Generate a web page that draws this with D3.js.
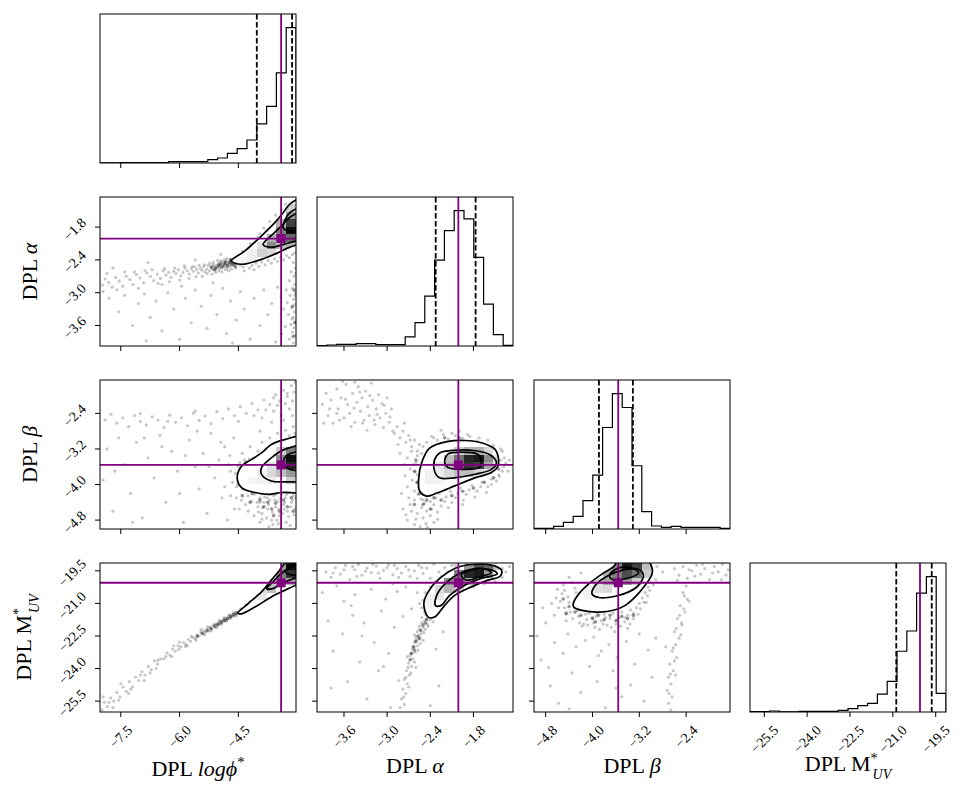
<!DOCTYPE html>
<html>
<head>
<meta charset="utf-8">
<script src="https://cdn.jsdelivr.net/npm/d3@7"></script>
<style>
  body { margin: 0; background: #fff; }
  svg text { font-family: "Liberation Serif", "DejaVu Serif", serif; }
</style>
</head>
<body>
<div id="chart"></div>
<script>
// ---- data ----
const ranges = [[-8.03, -3.03], [-3.975, -1.25], [-5.0, -1.65], [-26.0, -19.14]];
const tickVals = [[-7.5, -6.0, -4.5], [-3.6, -3.0, -2.4, -1.8], [-4.8, -4.0, -3.2, -2.4], [-25.5, -24.0, -22.5, -21.0, -19.5]];
const truths = [-3.41, -2.01, -3.56, -20.05];
const quantiles = [[-4.03, -3.13], [-2.325, -1.77], [-3.89, -3.31], [-20.88, -19.64]];

// 20-bin histograms (counts)
const histLogphi = [0.5, 0.5, 1, 1, 1, 1, 1, 4, 4, 4, 4, 10, 15, 29, 43, 69, 117, 170, 270, 406];
const histAlpha = [1, 3, 5, 5, 7, 7, 4, 4, 4, 27, 70, 149, 257, 345, 405, 380, 265, 125, 34, 2];
const histBeta = [2, 2, 8, 20, 38, 85, 162, 305, 407, 365, 190, 52, 9, 5, 8, 5, 5, 5, 5, 2];
const histMuv = [1, 1, 3, 0.5, 0.5, 2, 2, 2, 2, 5, 10, 19, 26, 54, 92, 183, 244, 358, 408, 56];

// samples outside the lowest contour, [x, y]
const ptsAlphaLogphi = [
  [-4.52,-2.44],[-4.55,-2.40],[-4.58,-2.47],[-4.60,-2.43],[-4.62,-2.50],[-4.65,-2.45],[-4.67,-2.41],[-4.70,-2.48],[-4.72,-2.52],[-4.74,-2.44],
  [-4.77,-2.47],[-4.79,-2.55],[-4.81,-2.42],[-4.84,-2.50],[-4.86,-2.46],[-4.88,-2.53],[-4.91,-2.49],[-4.93,-2.44],[-4.96,-2.56],[-4.98,-2.51],
  [-5.01,-2.47],[-5.04,-2.54],[-5.06,-2.50],[-5.09,-2.58],[-5.12,-2.52],[-5.15,-2.48],[-5.18,-2.56],[-5.21,-2.53],[-5.24,-2.60],[-5.27,-2.50],
  [-5.31,-2.57],[-5.35,-2.62],[-5.39,-2.52],[-5.43,-2.59],[-5.47,-2.55],[-5.52,-2.64],[-5.56,-2.58],[-5.61,-2.53],[-5.65,-2.61],[-5.70,-2.56],
  [-5.75,-2.66],[-5.80,-2.60],[-5.86,-2.55],[-5.91,-2.63],[-5.97,-2.69],[-6.03,-2.58],[-6.09,-2.65],[-6.15,-2.61],[-6.22,-2.72],[-6.28,-2.63],
  [-6.35,-2.68],[-6.42,-2.60],[-6.49,-2.74],[-6.57,-2.66],[-6.66,-2.78],[-6.74,-2.70],[-6.83,-2.64],[-6.92,-2.82],[-7.01,-2.73],[-7.10,-2.67],
  [-7.19,-2.85],[-7.27,-2.76],[-7.36,-2.70],[-7.45,-2.88],[-7.54,-2.79],[-7.63,-2.72],[-7.72,-2.90],[-7.81,-2.81],[-7.90,-2.75],[-7.97,-2.86],
  [-7.60,-2.95],[-7.05,-2.92],[-6.45,-2.85],
  [-4.53,-2.36],[-4.57,-2.55],[-4.63,-2.38],[-4.68,-2.57],[-4.71,-2.39],[-4.75,-2.60],[-4.80,-2.37],[-4.83,-2.58],[-4.87,-2.40],[-4.92,-2.62],
  [-4.95,-2.42],[-5.00,-2.60],[-5.03,-2.41],[-5.08,-2.63],[-5.13,-2.44],[-5.17,-2.66],[-5.23,-2.46],[-5.29,-2.65],[-5.36,-2.49],[-5.42,-2.70],
  [-5.50,-2.50],[-5.58,-2.71],[-5.67,-2.52],[-5.76,-2.74],[-5.88,-2.51],[-6.00,-2.77],[-6.12,-2.55],[-6.26,-2.80],[-6.38,-2.56],[-6.55,-2.83],
  [-6.70,-2.58],[-6.88,-2.60],[-7.15,-2.62],[-7.40,-2.62],[-7.85,-2.65],[-4.62,-2.47],[-4.69,-2.44],[-4.78,-2.49],[-4.89,-2.51],[-5.02,-2.53],
  [-4.45,-2.50],[-4.38,-2.53],[-4.30,-2.47],[-4.22,-2.55],[-4.15,-2.50],[-4.05,-2.46],[-3.98,-2.52],[-3.90,-2.44],[-3.82,-2.49],[-3.74,-2.41],
  [-3.66,-2.46],[-3.58,-2.38],[-3.50,-2.43],[-3.42,-2.35],[-3.35,-2.40],[-3.27,-2.32],[-3.20,-2.36],[-3.12,-2.30],[-3.06,-2.27],[-4.40,-2.40],
  [-4.35,-2.60],[-4.10,-2.58],
  [-4.40,-2.25],[-4.20,-2.10],[-4.00,-1.98],[-3.85,-1.82],[-3.70,-1.70],[-3.55,-1.58],[-3.40,-1.48],[-3.30,-1.38],[-4.30,-2.30],[-3.95,-1.92],
  [-3.10,-2.45],[-3.05,-2.55],[-3.15,-2.62],[-3.08,-2.70],[-3.20,-2.78],[-3.06,-2.85],[-3.12,-2.92],[-3.04,-3.00],[-3.18,-3.05],[-3.09,-3.12],
  [-3.25,-3.18],[-3.05,-3.22],[-3.14,-3.28],[-3.07,-3.35],[-3.22,-3.40],[-3.10,-3.45],[-3.04,-3.52],[-3.16,-3.58],[-3.08,-3.64],[-3.30,-3.62],
  [-3.12,-3.72],[-3.05,-3.78],[-3.20,-3.85],[-3.10,-3.92],[-3.35,-3.30],[-3.28,-2.95],[-3.06,-3.05],[-3.13,-3.48],[-3.40,-3.75],[-3.04,-2.65],
  [-7.95,-2.98],[-7.80,-3.10],[-7.55,-3.35],[-7.40,-3.05],[-7.20,-3.60],[-7.05,-3.20],[-6.90,-3.02],[-6.75,-3.45],[-6.60,-3.15],[-6.45,-3.70],
  [-6.30,-3.00],[-6.15,-3.30],[-6.00,-3.85],[-5.85,-3.10],[-5.70,-3.55],[-5.60,-2.95],[-5.45,-3.25],[-5.30,-3.65],[-5.20,-3.05],[-5.05,-3.40],
  [-4.90,-2.92],[-4.80,-3.75],[-4.70,-3.15],[-4.55,-3.50],[-4.45,-2.98],[-4.35,-3.30],[-4.20,-3.85],[-4.10,-3.10],[-3.95,-3.60],[-3.85,-2.95],
  [-3.75,-3.40],[-3.65,-3.20],[-3.55,-3.90],[-3.50,-2.90],[-4.65,-3.92],[-6.85,-3.88],[-5.15,-2.82],[-5.95,-2.88],
  [-6.80,-2.45],[-7.70,-2.55],[-5.60,-2.40],[-4.95,-2.30]
];
// denser cores: each point stands for several overlapping samples
const coreAlphaLogphi = [
  [-4.55,-2.46],[-4.60,-2.41],[-4.66,-2.49],[-4.72,-2.45],[-4.78,-2.51],[-4.85,-2.47],[-4.92,-2.53],[-5.00,-2.50],[-5.08,-2.55],[-5.18,-2.53],
  [-4.58,-2.52],[-4.70,-2.40],[-4.83,-2.44],[-4.96,-2.47],[-5.12,-2.58],[-3.08,-2.95],[-3.12,-3.25],[-3.06,-3.55],[-3.10,-3.80]
];

const ptsBetaLogphi = [
  [-7.90,-2.55],[-7.75,-2.42],[-7.60,-2.62],[-7.45,-2.50],[-7.30,-2.70],[-7.15,-2.45],[-7.00,-2.58],[-6.85,-2.66],[-6.70,-2.48],[-6.55,-2.55],
  [-6.40,-2.72],[-6.25,-2.44],[-6.10,-2.60],[-5.95,-2.50],[-5.80,-2.68],[-5.65,-2.40],[-5.50,-2.56],[-5.35,-2.46],[-5.20,-2.63],[-5.05,-2.36],
  [-4.90,-2.52],[-4.75,-2.30],[-4.60,-2.45],[-4.45,-2.25],[-4.30,-2.40],[-4.15,-2.18],[-4.00,-2.32],[-3.85,-2.10],[-3.70,-2.20],[-3.55,-1.98],
  [-3.45,-2.12],[-3.35,-1.88],[-3.25,-2.02],[-3.15,-1.78],[-3.08,-1.92],[-3.05,-1.70],[-3.20,-2.30],[-3.40,-2.45],[-3.60,-2.35],[-3.90,-2.50],
  [-5.60,-2.35],[-6.30,-2.58],[-7.00,-2.40],[-4.50,-2.58],[-4.10,-2.45],[-3.80,-2.32],[-3.50,-2.22],[-3.25,-1.95],[-3.12,-2.12],[-3.30,-2.18],
  [-3.60,-2.05],
  [-7.95,-3.90],[-7.85,-3.20],[-7.70,-4.60],[-7.55,-2.95],[-7.40,-3.55],[-7.25,-4.20],[-7.10,-3.05],[-6.95,-4.75],[-6.80,-3.40],[-6.65,-3.85],
  [-6.50,-2.90],[-6.35,-4.40],[-6.20,-3.25],[-6.05,-3.70],[-5.90,-4.85],[-5.75,-3.00],[-5.60,-3.60],[-5.50,-4.10],[-5.40,-3.30],[-5.30,-4.65],
  [-5.20,-2.85],[-5.10,-3.85],[-5.00,-3.45],[-4.92,-4.30],[-4.85,-3.15],[-4.78,-4.80],[-4.70,-3.70],[-4.62,-2.95],[-4.55,-4.05],[-6.90,-2.95],
  [-7.65,-3.70],[-6.00,-4.20],[-5.55,-2.80],[-5.85,-3.35],[-6.45,-3.15],[-7.20,-4.85],[-4.95,-3.05],[-5.25,-3.60],[-4.72,-3.35],[-4.60,-4.55],
  [-4.50,-3.60],[-4.45,-3.85],[-4.40,-4.10],[-4.35,-3.45],[-4.30,-3.70],[-4.28,-3.95],[-4.25,-4.25],[-4.20,-3.55],[-4.18,-3.80],[-4.15,-4.05],
  [-4.12,-3.40],[-4.10,-3.65],[-4.08,-3.90],[-4.05,-4.15],[-4.02,-4.40],[-4.40,-3.30],[-4.55,-4.30],[-4.48,-4.55],[-4.32,-4.45],
  [-4.58,-3.75],[-4.52,-4.00],[-4.46,-3.50],[-4.42,-4.35],[-4.37,-3.90],[-4.33,-3.62],[-4.27,-4.12],[-4.22,-3.42],[-4.17,-4.38],[-4.13,-3.72],
  [-4.09,-4.22],[-4.04,-3.48],[-4.01,-3.98],[-3.98,-4.62],[-3.93,-4.15],[-3.88,-4.52],[-3.83,-4.28],[-3.78,-4.75],[-3.73,-4.45],[-3.68,-4.22],
  [-3.63,-4.62],[-3.57,-4.35],[-3.52,-4.80],[-3.47,-4.55],[-3.42,-4.32],[-3.37,-4.65],[-3.32,-4.40],[-3.27,-4.22],[-3.22,-4.72],[-3.17,-4.50],
  [-3.12,-4.35],[-3.08,-4.68],[-3.04,-4.30],[-3.95,-4.40],[-3.76,-4.30],[-3.55,-4.22],[-3.33,-4.55],[-4.25,-4.60],[-4.65,-3.95],[-4.70,-4.25],
  [-4.75,-3.55],[-4.85,-4.05],[-3.62,-4.90],[-3.18,-4.92],[-3.90,-4.78],
  [-4.00,-4.50],[-3.95,-4.30],[-3.90,-4.65],[-3.85,-4.40],[-3.80,-4.20],[-3.75,-4.55],[-3.70,-4.35],[-3.65,-4.80],[-3.60,-4.25],[-3.55,-4.50],
  [-3.50,-4.38],[-3.45,-4.70],[-3.40,-4.22],[-3.35,-4.45],[-3.30,-4.30],[-3.25,-4.60],[-3.20,-4.18],[-3.15,-4.40],[-3.10,-4.25],[-3.06,-4.55],
  [-3.95,-4.85],[-3.72,-4.95],[-3.48,-4.88],[-3.28,-4.85],[-4.10,-4.70],[-3.58,-4.12],[-3.85,-4.05],
  [-4.00,-3.25],[-3.90,-3.05],[-3.80,-3.20],[-3.70,-2.95],[-3.60,-3.10],[-3.50,-2.85],[-3.40,-3.00],[-3.30,-2.78],[-3.20,-2.90],[-3.10,-2.70],
  [-3.06,-2.85],[-4.20,-3.15],[-3.95,-2.80],[-3.65,-2.60],[-3.35,-2.55],[-3.12,-2.45]
];
const coreBetaLogphi = [
  [-4.45,-3.75],[-4.35,-4.00],[-4.25,-3.65],[-4.15,-4.20],[-4.05,-3.85],[-3.95,-4.35],[-3.85,-4.50],[-3.75,-4.40],[-3.65,-4.55],[-3.55,-4.42],
  [-3.45,-4.60],[-3.35,-4.35],[-3.25,-4.50],[-3.15,-4.30],[-4.40,-4.25],[-4.20,-4.40],[-3.90,-4.20],[-4.30,-3.50],[-3.60,-4.70],[-3.10,-4.60]
];

const ptsMuvLogphi = [
  [-4.52,-21.38],[-4.55,-21.50],[-4.58,-21.44],[-4.61,-21.56],[-4.64,-21.50],[-4.67,-21.62],[-4.70,-21.55],[-4.73,-21.68],[-4.76,-21.62],[-4.79,-21.76],
  [-4.82,-21.70],[-4.85,-21.80],[-4.88,-21.74],[-4.91,-21.88],[-4.94,-21.81],[-4.97,-21.95],[-5.00,-21.88],[-5.03,-22.02],[-5.06,-21.95],[-5.10,-22.10],
  [-5.14,-22.02],[-5.18,-22.18],[-5.22,-22.10],[-5.26,-22.25],[-5.30,-22.18],[-5.34,-22.33],[-5.38,-22.26],[-5.42,-22.40],[-5.46,-22.32],[-5.50,-22.50],
  [-4.56,-21.58],[-4.63,-21.42],[-4.69,-21.68],[-4.74,-21.52],[-4.81,-21.82],[-4.86,-21.64],[-4.93,-21.96],[-4.99,-21.78],[-5.05,-22.12],[-5.12,-21.95],
  [-5.20,-22.28],[-5.28,-22.08],[-5.36,-22.45],[-5.45,-22.20],[-5.58,-22.70],[-5.70,-22.52],[-5.85,-22.98],[-6.02,-23.12],[-6.15,-22.95],[-6.35,-23.45],
  [-6.55,-23.62],[-6.75,-24.20],[-7.00,-24.30],[-7.25,-24.95],[-7.55,-25.45],[-7.80,-25.55],
  [-5.55,-22.45],[-5.60,-22.62],[-5.66,-22.58],[-5.72,-22.75],[-5.78,-22.66],[-5.84,-22.88],[-5.90,-22.80],[-5.97,-23.00],[-6.04,-22.95],[-6.11,-23.20],
  [-6.18,-23.10],[-6.25,-23.38],[-6.32,-23.28],[-6.40,-23.55],[-5.80,-22.95],[-6.00,-22.78],[-6.20,-23.45],
  [-6.48,-23.55],[-6.56,-23.80],[-6.64,-23.65],[-6.72,-24.05],[-6.80,-23.90],[-6.88,-24.30],[-6.96,-24.15],[-7.04,-24.55],[-7.12,-24.40],[-7.20,-24.85],
  [-7.28,-24.60],[-7.36,-25.05],[-7.44,-24.85],[-7.52,-25.30],[-7.60,-25.10],[-7.68,-25.50],[-7.76,-25.35],[-7.84,-25.75],[-7.92,-25.55],[-7.98,-25.90],
  [-7.70,-25.80],[-7.30,-25.15],[-6.90,-24.55],[-6.60,-24.00],[-7.95,-25.30],[-7.50,-24.70],
  [-4.45,-21.25],[-4.40,-21.30],[-4.30,-21.05],[-4.20,-20.90],[-4.10,-20.80],[-4.00,-20.62],[-3.90,-20.55],[-3.80,-20.35],[-3.70,-20.28],[-3.60,-20.10],
  [-4.35,-21.20],[-4.25,-21.10]
];
const coreMuvLogphi = [
  [-4.55,-21.45],[-4.62,-21.53],[-4.70,-21.60],[-4.78,-21.70],[-4.86,-21.78],[-4.94,-21.86],[-5.02,-21.96],[-5.10,-22.04],[-5.20,-22.16],[-5.30,-22.26],
  [-5.42,-22.38],[-5.55,-22.52]
];

const ptsBetaAlpha = [
  [-3.90,-2.20],[-3.85,-1.95],[-3.82,-2.45],[-3.78,-2.10],[-3.75,-2.62],[-3.70,-1.85],[-3.68,-2.30],[-3.64,-2.05],[-3.60,-2.50],[-3.57,-1.75],
  [-3.55,-2.20],[-3.52,-2.40],[-3.48,-1.95],[-3.45,-2.60],[-3.42,-2.15],[-3.40,-1.80],[-3.37,-2.35],[-3.35,-2.05],[-3.32,-2.55],[-3.30,-1.90],
  [-3.27,-2.25],[-3.25,-2.45],[-3.22,-1.72],[-3.20,-2.10],[-3.17,-2.65],[-3.15,-2.30],[-3.12,-1.98],[-3.10,-2.50],[-3.07,-2.18],[-3.05,-2.72],
  [-3.02,-2.40],[-3.00,-2.05],[-2.97,-2.60],[-2.94,-2.30],[-2.92,-2.80],[-3.50,-2.70],[-3.62,-1.68],[-3.88,-2.62],[-3.28,-2.78],[-3.45,-1.70],
  [-3.80,-2.30],[-3.66,-2.55],[-3.58,-2.08],[-3.46,-2.28],[-3.34,-2.62],[-3.24,-2.00],[-3.14,-2.42],[-3.04,-2.22],[-2.96,-2.48],[-3.38,-1.92],
  [-3.70,-2.40],[-3.18,-2.55],
  [-2.90,-2.85],[-2.86,-2.70],[-2.82,-2.95],[-2.78,-2.80],[-2.74,-3.05],[-2.70,-2.90],[-2.66,-3.15],[-2.62,-3.00],[-2.58,-3.25],[-2.55,-3.10],
  [-2.52,-3.30],[-2.85,-3.10],[-2.76,-2.62],
  [-2.72,-3.40],[-2.68,-3.65],[-2.65,-3.90],[-2.62,-4.15],[-2.60,-3.50],[-2.58,-3.78],[-2.56,-4.05],[-2.70,-4.30],[-2.66,-3.25],[-2.75,-3.80],
  [-2.64,-3.55],[-2.61,-3.72],[-2.59,-3.95],[-2.57,-4.22],[-2.53,-4.32],[-2.48,-4.42],[-2.40,-4.38],[-2.32,-4.30],[-2.25,-4.48],[-2.18,-4.28],
  [-2.10,-4.40],[-2.02,-4.20],[-1.94,-4.35],[-1.86,-4.12],[-1.78,-4.28],[-1.70,-4.05],[-1.62,-4.18],[-1.55,-4.00],[-1.48,-3.92],[-1.44,-3.82],
  [-1.40,-3.70],[-1.37,-3.40],[-1.42,-3.20],[-1.52,-3.12],[-1.60,-3.00],[-1.72,-2.95],[-1.88,-2.88],[-2.10,-2.85],[-2.35,-2.95],[-2.50,-3.15],
  [-2.58,-3.35],[-2.68,-3.00],[-2.72,-4.05],[-2.76,-3.55],[-2.82,-3.30],[-2.66,-4.60],[-2.52,-4.52],[-2.38,-4.55],[-2.60,-4.78],[-2.44,-4.96],
  [-2.30,-4.78],[-2.74,-4.68],
  [-2.50,-4.35],[-2.42,-4.25],[-2.35,-4.45],[-2.28,-4.20],[-2.20,-4.38],[-2.12,-4.15],[-2.05,-4.30],[-1.98,-4.08],[-1.90,-4.22],[-1.82,-4.02],
  [-1.75,-4.15],[-1.68,-3.95],[-1.60,-4.05],[-1.55,-3.88],[-2.45,-4.60],[-2.30,-4.62],[-2.15,-4.52],[-1.95,-4.45],[-2.52,-4.10],
  [-2.45,-3.05],[-2.38,-2.92],[-2.30,-3.00],[-2.22,-2.88],[-2.15,-2.98],[-2.05,-2.90],[-1.95,-2.96],[-1.85,-2.92],[-1.75,-3.02],[-1.65,-3.08],
  [-2.00,-2.80],[-2.25,-2.78],
  [-1.48,-3.30],[-1.42,-3.45],[-1.38,-3.60],[-1.35,-3.52],[-1.32,-3.70],[-1.45,-3.78],[-1.40,-3.25],[-1.30,-3.45],
  [-2.78,-4.55],[-2.72,-4.80],[-2.68,-4.45],[-2.62,-4.90],[-2.58,-4.65],[-2.54,-4.95],[-2.50,-4.75],[-2.46,-4.88],[-2.40,-4.70],[-2.35,-4.85],
  [-2.80,-4.20],[-2.62,-4.35]
];
const coreBetaAlpha = [
  [-2.62,-3.70],[-2.58,-3.95],[-2.55,-4.20],[-2.45,-4.35],[-2.35,-4.30],[-2.25,-4.35],[-2.10,-4.25],[-1.95,-4.15],[-1.80,-4.08],[-1.65,-3.95],
  [-1.52,-3.85],[-2.60,-3.45],[-2.50,-4.45],[-2.62,-4.45],[-2.40,-4.55],[-1.45,-3.65],[-2.00,-2.95],[-2.20,-2.95]
];

const ptsMuvAlpha = [
  [-3.85,-19.55],[-3.78,-19.80],[-3.72,-19.35],[-3.65,-19.65],[-3.58,-19.25],[-3.52,-19.90],[-3.45,-19.45],[-3.40,-19.20],[-3.35,-19.70],[-3.28,-19.38],
  [-3.22,-19.58],[-3.15,-19.28],[-3.10,-19.85],[-3.05,-19.48],[-2.98,-19.22],[-2.92,-19.68],[-2.86,-19.40],[-2.80,-19.60],[-2.74,-19.30],[-2.68,-19.75],
  [-2.62,-19.50],[-2.56,-19.25],[-2.50,-19.62],[-2.45,-19.38],[-2.40,-19.85],[-2.35,-19.20],[-3.60,-19.45],[-3.30,-19.52],[-3.00,-19.35],[-2.70,-19.45],
  [-3.48,-19.30],[-3.20,-19.20],[-2.90,-19.25],[-3.75,-19.60],[-3.42,-19.75],[-3.12,-19.60],[-2.84,-19.80],[-2.58,-19.85],[-2.52,-19.35],
  [-2.38,-21.45],[-2.42,-21.60],[-2.46,-21.52],[-2.40,-21.75],[-2.48,-21.80],[-2.44,-21.95],[-2.52,-21.90],[-2.50,-22.10],[-2.55,-22.05],[-2.47,-22.20],
  [-2.58,-22.30],[-2.53,-22.40],[-2.60,-22.55],[-2.56,-22.65],[-2.62,-22.80],[-2.58,-22.95],[-2.65,-23.10],[-2.61,-23.25],[-2.68,-23.40],[-2.64,-23.55],
  [-2.70,-23.75],[-2.66,-23.90],[-2.73,-24.10],[-2.69,-24.30],[-2.76,-24.50],[-2.72,-24.70],[-2.78,-24.95],[-2.74,-25.15],[-2.80,-25.40],[-2.76,-25.65],
  [-2.36,-21.85],[-2.62,-22.45],[-2.50,-22.70],[-2.72,-23.45],[-2.60,-23.95],
  [-2.40,-21.55],[-2.45,-21.70],[-2.52,-21.65],[-2.43,-22.05],[-2.55,-22.20],[-2.49,-22.35],[-2.60,-22.70],[-2.54,-22.85],[-2.64,-23.00],[-2.57,-23.15],
  [-2.67,-23.30],[-2.62,-23.70],[-2.71,-23.95],[-2.67,-24.20],[-2.74,-24.40],[-2.70,-24.85],[-2.77,-25.30],[-2.82,-25.80],
  [-2.35,-21.30],[-2.30,-21.10],[-2.40,-21.20],[-2.45,-20.95],[-2.42,-20.70],[-2.35,-20.45],[-2.25,-20.20],[-2.15,-19.95],[-2.08,-20.40],[-1.98,-20.20],
  [-1.85,-20.05],[-1.70,-19.95],[-1.55,-19.85],[-1.45,-19.60],[-1.40,-19.40],[-1.50,-19.25],[-2.05,-19.25],[-1.90,-19.20],[-2.20,-19.35],[-2.28,-19.55],
  [-2.20,-20.75],[-2.30,-21.45],
  [-2.48,-21.40],[-2.52,-21.20],[-2.50,-20.85],[-2.47,-20.50],[-2.40,-20.25],[-2.33,-20.00],[-2.25,-19.75],[-2.15,-19.55],[-2.10,-19.25],[-1.80,-20.25],
  [-1.65,-20.10],[-1.50,-20.00],[-1.40,-19.80],[-1.35,-19.55],[-1.30,-19.30],
  [-3.90,-20.50],[-3.82,-21.80],[-3.75,-23.20],[-3.70,-20.20],[-3.62,-22.40],[-3.55,-24.60],[-3.50,-21.10],[-3.45,-20.60],[-3.38,-23.70],[-3.32,-21.90],
  [-3.28,-25.40],[-3.22,-20.35],[-3.18,-22.80],[-3.12,-24.10],[-3.08,-21.35],[-3.02,-20.80],[-2.98,-23.30],[-2.95,-25.80],[-2.90,-22.10],[-2.86,-20.45],
  [-2.84,-24.55],[-2.78,-21.60],[-2.74,-20.25],[-2.66,-21.25],[-2.58,-20.50],[-2.32,-23.10],[-2.28,-24.80],[-2.22,-22.30],[-2.40,-25.70],[-3.60,-20.90],
  [-3.35,-22.50],[-3.05,-23.90],[-2.92,-20.10],[-3.78,-24.90],[-3.48,-21.55],[-2.55,-21.00]
];
const coreMuvAlpha = [
  [-2.45,-21.75],[-2.50,-22.00],[-2.53,-22.25],[-2.57,-22.50],[-2.60,-22.75],[-2.63,-23.00],[-2.66,-23.30],[-2.68,-23.60],[-2.42,-21.50],[-2.47,-21.90],
  [-2.55,-22.60],[-2.62,-23.15]
];

const ptsMuvBeta = [
  [-4.55,-20.90],[-4.48,-21.20],[-4.42,-20.70],[-4.38,-21.40],[-4.32,-21.05],[-4.28,-20.50],[-4.24,-21.60],[-4.20,-21.25],[-4.15,-20.85],[-4.10,-21.75],
  [-4.06,-21.45],[-4.02,-21.10],[-3.98,-21.90],[-3.94,-21.60],[-3.90,-21.30],[-3.85,-21.80],[-3.80,-21.50],[-3.75,-22.00],[-3.70,-21.70],[-3.65,-21.45],
  [-3.60,-21.95],[-3.55,-21.65],[-3.50,-21.40],[-3.45,-21.85],[-3.40,-21.55],[-3.35,-21.30],[-3.30,-21.70],[-3.25,-21.20],[-3.20,-21.00],[-3.15,-20.75],
  [-3.10,-20.50],[-3.05,-20.25],[-3.08,-20.95],[-3.00,-20.05],[-4.60,-20.35],[-4.50,-20.15],[-4.35,-20.05],[-4.65,-21.55],[-4.45,-21.80],[-4.18,-22.05],
  [-3.88,-22.20],[-3.62,-22.30],[-3.40,-22.15],[-4.00,-20.30],
  [-4.58,-21.20],[-4.52,-20.55],[-4.45,-21.50],[-4.40,-20.95],[-4.34,-21.70],[-4.30,-20.30],[-4.26,-21.35],[-4.22,-21.90],[-4.12,-21.50],[-4.08,-22.00],
  [-4.00,-21.65],[-3.96,-22.10],[-3.92,-21.45],[-3.82,-21.95],[-3.78,-21.65],[-3.68,-22.10],[-3.58,-21.75],[-3.52,-22.05],[-3.44,-21.65],[-3.36,-21.95],
  [-3.30,-21.45],[-3.22,-21.50],[-3.18,-21.25],[-3.12,-20.95],[-3.06,-20.65],[-3.02,-20.40],[-2.96,-20.15],[-2.92,-19.90],[-4.62,-20.75],[-4.70,-21.00],
  [-4.48,-20.40],
  [-4.95,-22.50],[-4.88,-23.60],[-4.80,-21.90],[-4.72,-24.80],[-4.65,-22.80],[-4.58,-25.60],[-4.50,-23.30],[-4.42,-22.40],[-4.35,-24.20],[-4.28,-23.00],
  [-4.20,-25.10],[-4.12,-22.70],[-4.05,-23.90],[-3.98,-22.55],[-3.92,-24.60],[-3.85,-23.20],[-3.78,-25.80],[-3.72,-22.90],[-3.65,-24.10],[-3.58,-23.50],
  [-3.50,-25.30],[-3.42,-22.75],[-3.35,-24.75],[-3.28,-23.80],[-3.20,-22.40],[-3.12,-25.50],[-3.05,-23.15],[-2.98,-24.40],[-2.92,-22.60],[-4.75,-23.95],
  [-4.40,-25.85],[-3.60,-24.90],[-3.90,-23.40],[-4.15,-21.95],[-4.85,-21.20],
  [-2.40,-20.20],[-2.45,-20.50],[-2.38,-20.80],[-2.50,-21.10],[-2.42,-21.40],[-2.55,-21.70],[-2.47,-22.00],[-2.60,-22.30],[-2.52,-22.60],[-2.58,-22.90],
  [-2.64,-23.20],[-2.56,-23.50],[-2.68,-23.80],[-2.62,-24.10],[-2.70,-24.40],[-2.66,-24.70],[-2.72,-25.00],[-2.64,-25.30],[-2.70,-25.60],[-2.66,-25.90],
  [-2.35,-20.90],[-2.48,-21.90],[-2.75,-23.00],[-2.58,-24.30],
  [-2.43,-20.65],[-2.51,-21.55],[-2.44,-21.25],[-2.57,-22.15],[-2.49,-22.45],[-2.62,-23.05],[-2.60,-23.65],[-2.67,-24.25],[-2.69,-25.15],
  [-2.60,-19.40],[-2.52,-19.70],[-2.45,-19.30],[-2.38,-19.85],[-2.30,-19.50],[-2.22,-19.25],[-2.15,-19.65],[-2.08,-19.40],[-2.00,-19.90],[-1.92,-19.30],
  [-1.85,-19.55],[-1.78,-19.20],[-1.72,-19.70],[-1.68,-19.45],[-1.95,-19.60],[-2.25,-19.75],[-2.55,-19.95],[-2.35,-19.45],[-1.80,-19.90],[-2.12,-19.20],
  [-4.40,-19.80],[-4.20,-19.60],[-3.10,-19.40],[-3.00,-19.70],[-2.90,-19.30],[-2.80,-19.55]
];
const coreMuvBeta = [
  [-4.40,-21.15],[-4.30,-21.40],[-4.20,-21.55],[-4.10,-21.30],[-4.00,-21.70],[-3.90,-21.55],[-3.80,-21.75],[-3.70,-21.55],[-3.60,-21.80],[-3.50,-21.60],
  [-3.40,-21.70],[-4.50,-20.80],[-4.45,-21.45],[-3.30,-21.55],[-3.95,-21.85],[-4.25,-21.20]
];

// contour outlines [outer, middle, inner]
const contAlphaLogphi = [
  [[-4.68,-2.42],[-4.34,-2.24],[-3.91,-1.96],[-3.57,-1.72],[-3.36,-1.54],[-3.19,-1.38],[-2.98,-1.29],[-2.64,-1.26],[-2.64,-2.06],[-2.98,-2.12],[-3.23,-2.18],[-3.49,-2.27],[-3.91,-2.39],[-4.42,-2.48]],
  [[-3.87,-2.12],[-3.62,-1.93],[-3.36,-1.75],[-3.15,-1.60],[-2.64,-1.51],[-2.64,-2.03],[-3.06,-2.06],[-3.36,-2.12],[-3.66,-2.17]],
  [[-3.36,-1.81],[-3.23,-1.57],[-3.06,-1.48],[-2.64,-1.42],[-2.64,-1.87],[-3.06,-1.89],[-3.28,-1.86]]
];
const contBetaLogphi = [
  [[-2.64,-2.92],[-3.32,-2.99],[-3.66,-3.10],[-3.91,-3.29],[-4.17,-3.44],[-4.42,-3.59],[-4.53,-3.85],[-4.42,-4.07],[-4.08,-4.18],[-3.74,-4.22],[-3.40,-4.18],[-2.64,-4.11]],
  [[-2.64,-3.14],[-3.32,-3.21],[-3.66,-3.40],[-3.91,-3.62],[-3.91,-3.77],[-3.66,-3.92],[-3.32,-3.94],[-2.64,-3.85]],
  [[-2.64,-3.27],[-3.19,-3.31],[-3.34,-3.44],[-3.30,-3.61],[-2.64,-3.66]]
];
const contMuvLogphi = [
  [[-4.51,-21.44],[-4.25,-21.01],[-3.91,-20.47],[-3.66,-19.93],[-3.45,-19.47],[-3.32,-19.16],[-3.15,-18.9],[-2.64,-18.9],[-2.64,-19.93],[-2.98,-20.12],[-3.32,-20.40],[-3.66,-20.70],[-4.08,-21.17],[-4.42,-21.48]],
  [[-3.78,-20.32],[-3.62,-20.01],[-3.45,-19.70],[-3.23,-19.39],[-2.98,-19.16],[-2.64,-19.0],[-2.64,-19.70],[-3.06,-19.85],[-3.36,-20.05],[-3.62,-20.32]],
  [[-3.30,-19.55],[-3.15,-19.25],[-2.64,-19.15],[-2.64,-19.65],[-3.10,-19.70]]
];
const contBetaAlpha = [
  [[-2.41,-3.18],[-2.15,-3.03],[-1.92,-3.01],[-1.69,-3.06],[-1.50,-3.21],[-1.45,-3.44],[-1.46,-3.59],[-1.55,-3.73],[-1.78,-3.85],[-2.06,-4.03],[-2.29,-4.18],[-2.45,-4.26],[-2.55,-4.14],[-2.56,-3.85],[-2.52,-3.51]],
  [[-2.34,-3.44],[-2.27,-3.29],[-2.06,-3.23],[-1.78,-3.24],[-1.57,-3.33],[-1.48,-3.51],[-1.55,-3.66],[-1.78,-3.77],[-2.06,-3.85],[-2.27,-3.85],[-2.34,-3.70]],
  [[-2.19,-3.40],[-2.15,-3.31],[-1.97,-3.27],[-1.74,-3.32],[-1.69,-3.47],[-1.71,-3.61],[-1.92,-3.66],[-2.15,-3.62],[-2.20,-3.51]]
];
const contMuvAlpha = [
  [[-2.43,-21.63],[-2.49,-21.01],[-2.43,-20.47],[-2.27,-19.85],[-2.06,-19.39],[-1.83,-19.21],[-1.55,-19.24],[-1.41,-19.47],[-1.43,-19.75],[-1.60,-19.93],[-1.83,-20.24],[-2.06,-20.63],[-2.20,-21.09],[-2.34,-21.63]],
  [[-2.33,-21.09],[-2.30,-20.55],[-2.15,-19.96],[-1.97,-19.59],[-1.74,-19.39],[-1.50,-19.52],[-1.47,-19.65],[-1.69,-19.85],[-1.92,-20.16],[-2.13,-20.63],[-2.25,-21.09]],
  [[-1.97,-19.70],[-1.83,-19.47],[-1.64,-19.42],[-1.55,-19.59],[-1.69,-19.75],[-1.90,-19.93]]
];
const contMuvBeta = [
  [[-4.33,-21.01],[-4.23,-20.55],[-4.06,-20.09],[-3.84,-19.65],[-3.64,-19.31],[-3.55,-19.0],[-3.07,-19.0],[-2.98,-19.39],[-2.99,-19.70],[-3.10,-20.16],[-3.27,-20.70],[-3.44,-21.09],[-3.61,-21.29],[-3.89,-21.40],[-4.18,-21.32],[-4.32,-21.17]],
  [[-4.01,-20.55],[-3.95,-20.16],[-3.75,-19.75],[-3.49,-19.47],[-3.21,-19.44],[-3.13,-19.70],[-3.21,-20.16],[-3.38,-20.47],[-3.61,-20.67],[-3.89,-20.73]],
  [[-3.71,-19.70],[-3.58,-19.39],[-3.35,-19.35],[-3.21,-19.59],[-3.35,-19.81],[-3.52,-19.90],[-3.66,-19.90]]
];

// 2D histogram cells [xBin, yBin, darkness] on the 20x20 grid
const cellsAlphaLogphi = [[19,16,0.75],[19,15,0.95],[19,14,0.6],[19,17,0.4],[18,15,0.5],[18,14,0.55],[18,16,0.3],[18,13,0.25],[17,14,0.3],[17,13,0.45],[17,12,0.15],[16,13,0.12],[16,12,0.18],[15,12,0.06],[15,11,0.06],[14,11,0.04],[19,13,0.3],[19,18,0.2]];
const cellsBetaLogphi = [[19,9,0.95],[19,8,0.85],[19,10,0.5],[19,7,0.4],[18,9,0.45],[18,8,0.35],[18,7,0.25],[18,10,0.2],[17,8,0.12],[17,7,0.15],[17,6,0.08],[16,7,0.06],[16,6,0.05],[15,6,0.03],[19,6,0.2]];
const cellsMuvLogphi = [[19,19,0.95],[19,18,0.8],[18,19,0.4],[18,18,0.5],[18,17,0.3],[17,17,0.2],[17,16,0.25],[16,16,0.12],[16,15,0.1],[15,15,0.05],[19,17,0.3]];
const cellsBetaAlpha = [[15,9,0.85],[16,9,0.9],[15,8,0.8],[16,8,0.75],[14,9,0.55],[14,8,0.6],[17,9,0.45],[17,8,0.35],[13,8,0.3],[13,9,0.25],[15,10,0.3],[16,10,0.3],[14,10,0.2],[14,7,0.25],[15,7,0.25],[16,7,0.15],[13,7,0.15],[12,8,0.1],[12,7,0.08],[11,7,0.05],[11,6,0.05],[12,6,0.05],[17,10,0.15],[18,9,0.12],[18,8,0.1],[17,7,0.1]];
const cellsMuvAlpha = [[15,18,0.85],[16,18,0.9],[16,19,0.7],[17,19,0.6],[15,19,0.4],[14,18,0.5],[14,17,0.55],[13,17,0.45],[13,16,0.3],[12,16,0.15],[12,15,0.1],[11,15,0.06],[11,14,0.05],[17,18,0.4],[18,19,0.25],[15,17,0.35],[14,16,0.2]];
const cellsMuvBeta = [[9,19,0.9],[10,19,0.75],[9,18,0.7],[8,18,0.5],[10,18,0.55],[8,19,0.45],[7,18,0.3],[7,17,0.35],[8,17,0.45],[9,17,0.4],[6,17,0.15],[6,16,0.12],[7,16,0.15],[5,16,0.06],[11,18,0.2],[11,19,0.25],[5,15,0.05],[10,17,0.2]];

// ---- layout ----
const W = 196, H = 149;
const colX = [100, 317, 534, 750];
const rowY = [14, 197, 380, 563];
const PURPLE = "#800080";
const TICK_FS = 14;
const NB = 20;
const PT_ALPHA = 0.22, CORE_ALPHA = 0.42;

const hists = [histLogphi, histAlpha, histBeta, histMuv];
const pairPanels = [
  {row: 1, col: 0, pts: ptsAlphaLogphi, core: coreAlphaLogphi, cont: contAlphaLogphi, cells: cellsAlphaLogphi},
  {row: 2, col: 0, pts: ptsBetaLogphi, core: coreBetaLogphi, cont: contBetaLogphi, cells: cellsBetaLogphi},
  {row: 3, col: 0, pts: ptsMuvLogphi, core: coreMuvLogphi, cont: contMuvLogphi, cells: cellsMuvLogphi},
  {row: 2, col: 1, pts: ptsBetaAlpha, core: coreBetaAlpha, cont: contBetaAlpha, cells: cellsBetaAlpha},
  {row: 3, col: 1, pts: ptsMuvAlpha, core: coreMuvAlpha, cont: contMuvAlpha, cells: cellsMuvAlpha},
  {row: 3, col: 2, pts: ptsMuvBeta, core: coreMuvBeta, cont: contMuvBeta, cells: cellsMuvBeta}
];

const xScales = ranges.map(r => d3.scaleLinear().domain(r).range([0, W]));
const yScales = ranges.map(r => d3.scaleLinear().domain(r).range([H, 0]));
const fmt = d3.format(".1f");

const svg = d3.select("#chart").append("svg")
    .attr("width", 969)
    .attr("height", 802);
const defs = svg.append("defs");
defs.append("clipPath").attr("id", "panelClip")
    .append("rect").attr("width", W).attr("height", H);

const smooth = d3.line().curve(d3.curveCatmullRomClosed.alpha(0.5));

// tick label turned 45 degrees, centred on its own rotated box
function tickLabel(sel, place) {
  sel.each(function(d) {
    const holder = d3.select(this).append("g");
    const txt = holder.append("text")
        .attr("dy", "0.35em")
        .attr("text-anchor", "middle")
        .style("font-size", TICK_FS + "px")
        .attr("fill", "#000")
        .text(fmt(d));
    const s = (txt.node().getComputedTextLength() + 10) / Math.SQRT2;
    holder.attr("transform", place(s) + " rotate(-45)");
  });
}

function addXTicks(g, i, withLabels) {
  const sc = xScales[i];
  const t = g.append("g").selectAll("g")
      .data(tickVals[i])
      .join("g")
      .attr("transform", d => `translate(${sc(d)},${H})`);
  t.append("line").attr("y2", 5).attr("stroke", "#000").attr("stroke-width", 1);
  if (withLabels) tickLabel(t, s => `translate(0,${12 + s / 2})`);
}

function addYTicks(g, j, withLabels) {
  const sc = yScales[j];
  const t = g.append("g").selectAll("g")
      .data(tickVals[j])
      .join("g")
      .attr("transform", d => `translate(0,${sc(d)})`);
  t.append("line").attr("x2", -5).attr("stroke", "#000").attr("stroke-width", 1);
  if (withLabels) tickLabel(t, s => `translate(${-(13 + s / 2)},2)`);
}

// ---- diagonal histograms ----
hists.forEach((counts, i) => {
  const g = svg.append("g").attr("transform", `translate(${colX[i]},${rowY[i]})`);
  const x = xScales[i];
  const y = d3.scaleLinear().domain([0, 1.1 * d3.max(counts)]).range([H, 0]);
  const r0 = ranges[i][0], step = (ranges[i][1] - ranges[i][0]) / NB;
  const pts = [[x(r0), y(0)]];
  counts.forEach((c, k) => {
    pts.push([x(r0 + k * step), y(c)]);
    pts.push([x(r0 + (k + 1) * step), y(c)]);
  });
  pts.push([x(ranges[i][1]), y(0)]);
  const inner = g.append("g").attr("clip-path", "url(#panelClip)");
  inner.append("path")
      .attr("d", d3.line()(pts))
      .attr("fill", "none")
      .attr("stroke", "#000")
      .attr("stroke-width", 1.2);
  inner.selectAll("line.q").data(quantiles[i]).join("line")
      .attr("x1", d => x(d)).attr("x2", d => x(d))
      .attr("y1", 0).attr("y2", H)
      .attr("stroke", "#000")
      .attr("stroke-width", 1.8)
      .attr("stroke-dasharray", "5.5,2.5");
  inner.append("line")
      .attr("x1", x(truths[i])).attr("x2", x(truths[i]))
      .attr("y1", 0).attr("y2", H)
      .attr("stroke", PURPLE)
      .attr("stroke-width", 1.8);
  g.append("rect").attr("width", W).attr("height", H)
      .attr("fill", "none").attr("stroke", "#000").attr("stroke-width", 1);
  addXTicks(g, i, i === 3);
});

// ---- pairwise panels ----
pairPanels.forEach((p, k) => {
  const x = xScales[p.col], y = yScales[p.row];
  const g = svg.append("g").attr("transform", `translate(${colX[p.col]},${rowY[p.row]})`);
  const inner = g.append("g").attr("clip-path", "url(#panelClip)");

  inner.append("g").selectAll("circle")
      .data(p.pts)
      .join("circle")
      .attr("cx", d => x(d[0]))
      .attr("cy", d => y(d[1]))
      .attr("r", 1.6)
      .attr("fill", "#000")
      .attr("fill-opacity", PT_ALPHA);
  inner.append("g").selectAll("circle")
      .data(p.core)
      .join("circle")
      .attr("cx", d => x(d[0]))
      .attr("cy", d => y(d[1]))
      .attr("r", 1.8)
      .attr("fill", "#000")
      .attr("fill-opacity", CORE_ALPHA);

  const paths = p.cont.map(c => smooth(c.map(d => [x(d[0]), y(d[1])])));
  inner.append("path").attr("d", paths[0]).attr("fill", "#fff");
  defs.append("clipPath").attr("id", `cont${k}`).append("path").attr("d", paths[0]);

  const xr = ranges[p.col], yr = ranges[p.row];
  const dxv = (xr[1] - xr[0]) / NB, dyv = (yr[1] - yr[0]) / NB;
  inner.append("g").attr("clip-path", `url(#cont${k})`)
      .selectAll("rect")
      .data(p.cells)
      .join("rect")
      .attr("x", d => x(xr[0] + d[0] * dxv))
      .attr("y", d => y(yr[0] + (d[1] + 1) * dyv))
      .attr("width", x(xr[0] + dxv) - x(xr[0]))
      .attr("height", y(yr[0]) - y(yr[0] + dyv))
      .attr("fill", d => d3.interpolateRgb("#ffffff", "#000000")(d[2]))
      .attr("shape-rendering", "crispEdges");

  inner.append("g").selectAll("path")
      .data(paths)
      .join("path")
      .attr("d", d => d)
      .attr("fill", "none")
      .attr("stroke", "#000")
      .attr("stroke-width", 1.7);

  const tx = x(truths[p.col]), ty = y(truths[p.row]);
  inner.append("line").attr("x1", tx).attr("x2", tx).attr("y1", 0).attr("y2", H)
      .attr("stroke", PURPLE).attr("stroke-width", 1.8);
  inner.append("line").attr("x1", 0).attr("x2", W).attr("y1", ty).attr("y2", ty)
      .attr("stroke", PURPLE).attr("stroke-width", 1.8);
  inner.append("rect").attr("x", tx - 4.5).attr("y", ty - 4.5)
      .attr("width", 9).attr("height", 9).attr("fill", PURPLE);

  g.append("rect").attr("width", W).attr("height", H)
      .attr("fill", "none").attr("stroke", "#000").attr("stroke-width", 1);
  addXTicks(g, p.col, p.row === 3);
  addYTicks(g, p.row, p.col === 0);
});

// ---- axis labels ----
const LABEL_FS = 22;
function writeLabel(sel, which) {
  sel.append("tspan").text("DPL ");
  if (which === 0) {
    sel.append("tspan").style("font-style", "italic").text("logϕ");
    sel.append("tspan").attr("dy", -9).style("font-size", "15px").text("*");
  } else if (which === 1) {
    sel.append("tspan").style("font-style", "italic").text("α");
  } else if (which === 2) {
    sel.append("tspan").style("font-style", "italic").text("β");
  } else {
    sel.append("tspan").text("M");
    sel.append("tspan").attr("dy", -8).style("font-size", "14px").text("*");
    sel.append("tspan").attr("dx", -5).attr("dy", 16).style("font-size", "14px").style("font-style", "italic").text("UV");
  }
}

const xLabelBase = [776, 773, 773, 771];
[0, 1, 2, 3].forEach(i => {
  const t = svg.append("text")
      .attr("x", colX[i] + W / 2)
      .attr("y", xLabelBase[i])
      .attr("text-anchor", "middle")
      .style("font-size", LABEL_FS + "px")
      .attr("fill", "#000");
  writeLabel(t, i);
});

const yLabelBase = [0, 37, 37, 31];
[1, 2, 3].forEach(j => {
  const t = svg.append("text")
      .attr("transform", `translate(${yLabelBase[j]},${rowY[j] + H / 2}) rotate(-90)`)
      .attr("text-anchor", "middle")
      .style("font-size", LABEL_FS + "px")
      .attr("fill", "#000");
  writeLabel(t, j);
});
</script>
</body>
</html>
